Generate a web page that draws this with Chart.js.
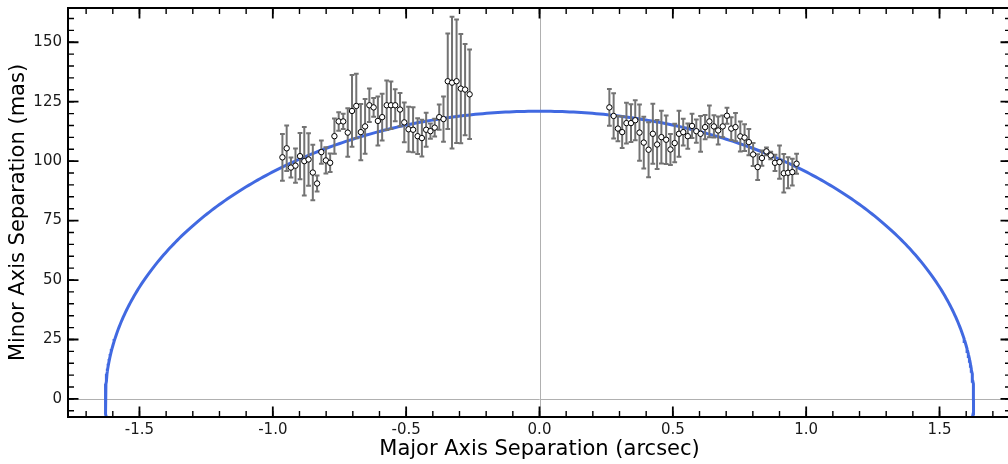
<!DOCTYPE html>
<html>
<head>
<meta charset="utf-8">
<script src="https://cdn.jsdelivr.net/npm/chart.js@4.4.0/dist/chart.umd.min.js"></script>
<style>
  html, body { margin: 0; padding: 0; background: #fff; overflow: hidden; }
  #wrap { width: 1008px; height: 464px; overflow: hidden; }
</style>
</head>
<body>
<div id="wrap"><canvas id="chart" width="1016" height="464"></canvas></div>
<script>
// ---- data ----
// major axis separation, arcsec
const majorSep = [
  -0.964, -0.948, -0.932, -0.915, -0.898, -0.882, -0.866, -0.850, -0.834, -0.818, -0.801,
  -0.785, -0.769, -0.753, -0.736, -0.719, -0.703, -0.687, -0.670, -0.654, -0.638, -0.622,
  -0.606, -0.590, -0.573, -0.557, -0.541, -0.523, -0.507, -0.491, -0.474, -0.457, -0.441,
  -0.425, -0.409, -0.393, -0.376, -0.360, -0.344, -0.328, -0.311, -0.295, -0.279, -0.262,
  0.262, 0.278, 0.294, 0.310, 0.326, 0.343, 0.359, 0.375, 0.391, 0.409, 0.425,
  0.441, 0.457, 0.475, 0.491, 0.507, 0.523, 0.539, 0.556, 0.572, 0.588, 0.604,
  0.621, 0.637, 0.654, 0.670, 0.687, 0.703, 0.719, 0.735, 0.753, 0.769, 0.785,
  0.801, 0.818, 0.834, 0.851, 0.867, 0.883, 0.900, 0.916, 0.932, 0.948, 0.964
];
// minor axis separation, mas
const minorSep = [
  101.6, 105.4, 97.3, 98.1, 102.1, 100.0, 100.7, 95.2, 90.6, 103.8, 100.3,
  99.3, 110.5, 116.7, 116.7, 112.0, 121.1, 123.2, 112.2, 114.6, 123.5, 122.6,
  116.9, 118.5, 123.5, 123.5, 123.5, 121.7, 116.3, 113.4, 113.2, 110.5, 109.7,
  113.2, 112.6, 114.1, 118.5, 117.7, 133.6, 133.0, 133.6, 130.5, 130.1, 128.1,
  122.6, 119.0, 113.7, 112.2, 116.0, 116.0, 117.2, 112.0, 107.8, 104.8, 111.5,
  107.0, 110.1, 109.0, 104.9, 107.6, 111.5, 112.2, 110.5, 114.8, 112.6, 111.5,
  114.3, 116.7, 114.6, 112.9, 114.6, 119.1, 113.7, 114.3, 110.4, 109.9, 108.0,
  102.8, 97.5, 101.3, 104.1, 102.4, 99.3, 99.6, 94.9, 95.1, 95.4, 98.9
];
// 1-sigma errors, mas
const minorErr = [
  9.8, 9.6, 4.2, 7.2, 9.7, 14.4, 11.0, 11.7, 3.4, 4.9, 5.5,
  3.9, 7.4, 3.9, 3.2, 10.2, 15.1, 13.6, 11.8, 11.5, 7.0, 3.9,
  10.3, 9.8, 10.4, 10.0, 6.7, 7.0, 8.4, 9.5, 9.5, 7.5, 7.7,
  7.2, 3.2, 3.7, 5.3, 9.5, 20.1, 27.7, 26.0, 23.0, 19.2, 18.8,
  7.7, 9.5, 5.3, 6.7, 8.6, 7.9, 8.4, 11.8, 10.9, 11.6, 12.6,
  10.3, 11.1, 10.2, 6.5, 8.1, 9.7, 5.6, 5.3, 5.1, 4.9, 7.5,
  5.1, 6.7, 4.7, 5.9, 4.6, 3.4, 4.8, 5.9, 6.3, 5.6, 5.5,
  4.8, 5.4, 3.2, 1.6, 1.6, 3.4, 7.0, 8.1, 6.5, 5.6, 4.2
];
// fitted ellipse: semi-major (arcsec), semi-minor (mas)
const ellipseA = 1.628;
const ellipseB = 121;

const xTicks = [-1.5, -1.0, -0.5, 0.0, 0.5, 1.0, 1.5];
const yTicks = [0, 25, 50, 75, 100, 125, 150];
const xLimits = [-1.768, 1.768];
const yLimits = [-7.6, 164.4];

// ---- build datasets ----
const pointData = majorSep.map((x, i) => ({ x: x, y: minorSep[i], err: minorErr[i] }));
const ellipseData = [];
for (let deg = 0; deg <= 360; deg += 0.5) {
  const t = deg * Math.PI / 180;
  ellipseData.push({ x: ellipseA * Math.cos(t), y: ellipseB * Math.sin(t) });
}

const FONT = "'DejaVu Sans', sans-serif";

// reference lines at zero, error bars, frame with inward ticks
const decor = {
  id: 'decor',
  beforeDatasetsDraw(chart) {
    const { ctx, chartArea: a, scales: { x, y } } = chart;
    ctx.save();
    ctx.strokeStyle = '#b0b0b0';
    ctx.lineWidth = 1;
    const x0 = Math.round(x.getPixelForValue(0)) + 0.5;
    const y0 = Math.round(y.getPixelForValue(0)) + 0.5;
    ctx.beginPath();
    ctx.moveTo(x0, a.top); ctx.lineTo(x0, a.bottom);
    ctx.moveTo(a.left, y0); ctx.lineTo(a.right, y0);
    ctx.stroke();
    ctx.restore();
  },
  afterDatasetDraw(chart, args) {
    if (args.index !== 1) return; // bars go over the ellipse, under the markers
    const { ctx, scales: { x, y } } = chart;
    ctx.save();
    ctx.strokeStyle = '#737373';
    ctx.lineWidth = 2;
    ctx.beginPath();
    pointData.forEach(p => {
      const px = x.getPixelForValue(p.x);
      const top = y.getPixelForValue(p.y + p.err);
      const bot = y.getPixelForValue(p.y - p.err);
      ctx.moveTo(px, top); ctx.lineTo(px, bot);
      ctx.moveTo(px - 2.4, top); ctx.lineTo(px + 2.4, top);
      ctx.moveTo(px - 2.4, bot); ctx.lineTo(px + 2.4, bot);
    });
    ctx.stroke();
    ctx.restore();
  },
  afterDraw(chart) {
    const { ctx, chartArea: a, scales: { x, y } } = chart;
    ctx.save();
    ctx.strokeStyle = '#000';
    ctx.lineWidth = 2;
    ctx.strokeRect(a.left, a.top, a.right - a.left, a.bottom - a.top);
    const tick = (len, vals, axis) => {
      ctx.beginPath();
      vals.forEach(v => {
        if (axis === 'x') {
          const p = x.getPixelForValue(v);
          if (p < a.left || p > a.right) return;
          ctx.moveTo(p, a.bottom); ctx.lineTo(p, a.bottom - len);
          ctx.moveTo(p, a.top); ctx.lineTo(p, a.top + len);
        } else {
          const p = y.getPixelForValue(v);
          if (p < a.top || p > a.bottom) return;
          ctx.moveTo(a.left, p); ctx.lineTo(a.left + len, p);
          ctx.moveTo(a.right, p); ctx.lineTo(a.right - len, p);
        }
      });
      ctx.stroke();
    };
    const xMinor = [], yMinor = [];
    for (let k = -17; k <= 17; k++) xMinor.push(k / 10);
    for (let k = -1; k <= 32; k++) yMinor.push(k * 5);
    ctx.lineWidth = 1.4;
    tick(6, xMinor, 'x');
    tick(6, yMinor, 'y');
    ctx.lineWidth = 1.8;
    tick(10.5, xTicks, 'x');
    tick(10.5, yTicks, 'y');
    ctx.restore();
  }
};

new Chart(document.getElementById('chart'), {
  type: 'scatter',
  data: {
    datasets: [
      {
        label: 'data',
        data: pointData,
        pointRadius: 2.7,
        pointBackgroundColor: '#ffffff',
        pointBorderColor: '#000000',
        pointBorderWidth: 1,
        showLine: false
      },
      {
        label: 'ellipse',
        data: ellipseData,
        showLine: true,
        pointRadius: 0,
        borderColor: '#4169e1',
        borderWidth: 3,
        fill: false
      }
    ]
  },
  options: {
    responsive: false,
    animation: false,
    devicePixelRatio: 1,
    layout: { padding: { top: 8, right: 2, left: 0, bottom: 0 } },
    plugins: { legend: { display: false }, tooltip: { enabled: false } },
    scales: {
      x: {
        type: 'linear',
        min: xLimits[0],
        max: xLimits[1],
        grid: { display: false, drawTicks: false, tickLength: 0 },
        border: { display: false },
        afterBuildTicks: s => { s.ticks = xTicks.map(v => ({ value: v })); },
        afterFit: s => { s.height = 47; s.paddingLeft = 0; s.paddingRight = 0; },
        ticks: {
          color: '#1a1a1a',
          font: { family: FONT, size: 15 },
          padding: 4,
          maxRotation: 0,
          callback: v => v.toFixed(1)
        },
        title: {
          display: true,
          text: 'Major Axis Separation (arcsec)',
          color: '#000',
          font: { family: FONT, size: 21 },
          padding: { top: 0, bottom: 2 }
        }
      },
      y: {
        type: 'linear',
        min: yLimits[0],
        max: yLimits[1],
        grid: { display: false, drawTicks: false, tickLength: 0 },
        border: { display: false },
        afterBuildTicks: s => { s.ticks = yTicks.map(v => ({ value: v })); },
        afterFit: s => { s.width = 68; s.paddingTop = 0; s.paddingBottom = 0; },
        ticks: {
          color: '#1a1a1a',
          font: { family: FONT, size: 15 },
          padding: 6,
          callback: v => String(v)
        },
        title: {
          display: true,
          text: 'Minor Axis Separation (mas)',
          color: '#000',
          font: { family: FONT, size: 21 },
          padding: { top: 6, bottom: 0 }
        }
      }
    }
  },
  plugins: [decor]
});
</script>
</body>
</html>
